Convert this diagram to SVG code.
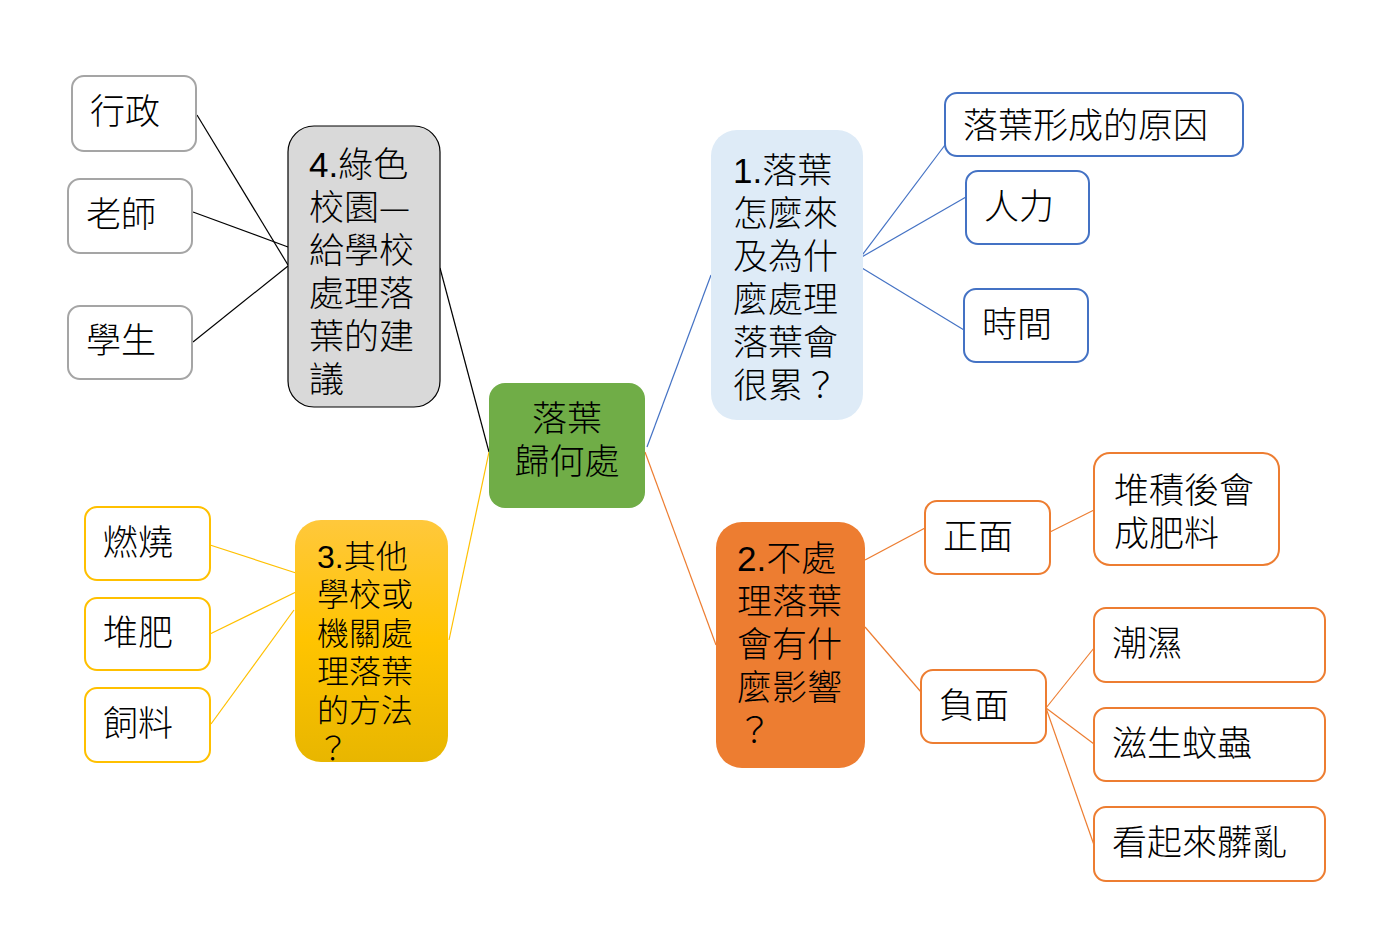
<svg xmlns="http://www.w3.org/2000/svg" width="1377" height="937" viewBox="0 0 1377 937">
<style>
text{font-family:"Noto Sans CJK TC","Noto Sans CJK SC",sans-serif;font-size:35px;fill:#000;font-weight:300}
.s{font-size:32px}
.d{font-family:"Liberation Sans","Noto Sans",sans-serif;font-weight:400}
.gray{fill:#fff;stroke:#A5A5A5;stroke-width:2}
.blue{fill:#fff;stroke:#4472C4;stroke-width:2}
.yel{fill:#fff;stroke:#FFC000;stroke-width:2}
.org{fill:#fff;stroke:#ED7D31;stroke-width:2}
#connectors line{stroke-width:1.2;fill:none}
</style>
<defs>
<linearGradient id="yg" x1="0" y1="0" x2="0" y2="1">
<stop offset="0" stop-color="#FFC83C"/>
<stop offset="0.5" stop-color="#FFC400"/>
<stop offset="1" stop-color="#E8B600"/>
</linearGradient>
</defs>
<rect width="1377" height="937" fill="#fff"/>
<g id="connectors">
<g stroke="#000">
<line x1="197" y1="115" x2="288" y2="265"/>
<line x1="193" y1="212" x2="288" y2="247"/>
<line x1="193" y1="342" x2="288" y2="266"/>
<line x1="440" y1="268" x2="489" y2="452"/>
</g>
<g stroke="#4472C4">
<line x1="647" y1="447" x2="711" y2="275"/>
<line x1="860" y1="258" x2="945" y2="145"/>
<line x1="860" y1="258" x2="966" y2="197"/>
<line x1="862" y1="268" x2="964" y2="330"/>
</g>
<g stroke="#FFC000">
<line x1="449" y1="640" x2="489" y2="452"/>
<line x1="210" y1="545" x2="296" y2="573"/>
<line x1="210" y1="634" x2="296" y2="592"/>
<line x1="211" y1="724" x2="294" y2="610"/>
</g>
<g stroke="#ED7D31">
<line x1="645" y1="452" x2="716" y2="645"/>
<line x1="865" y1="560" x2="925" y2="528"/>
<line x1="1050" y1="532" x2="1094" y2="510"/>
<line x1="865" y1="627" x2="921" y2="692"/>
<line x1="1046" y1="708" x2="1094" y2="648"/>
<line x1="1046" y1="708" x2="1094" y2="744"/>
<line x1="1046" y1="708" x2="1094" y2="845"/>
</g>
</g>
<g id="center">
<rect x="489" y="383" width="156" height="125" rx="16" fill="#70AD47"/>
<text x="567" y="431" text-anchor="middle">落葉</text>
<text x="567" y="474" text-anchor="middle">歸何處</text>
</g>
<g id="n4">
<rect x="288" y="126" width="152" height="281" rx="26" fill="#D9D9D9" stroke="#000" stroke-width="1.2"/>
<text x="309" y="177"><tspan class="d">4.</tspan>綠色</text>
<text x="309" y="220">校園—</text>
<text x="309" y="263">給學校</text>
<text x="309" y="306">處理落</text>
<text x="309" y="349">葉的建</text>
<text x="309" y="392">議</text>
</g>
<g id="n4a"><rect class="gray" x="72" y="76" width="124" height="75" rx="12"/><text x="90" y="124">行政</text></g>
<g id="n4b"><rect class="gray" x="68" y="179" width="124" height="74" rx="12"/><text x="86" y="227">老師</text></g>
<g id="n4c"><rect class="gray" x="68" y="306" width="124" height="73" rx="12"/><text x="86" y="353">學生</text></g>
<g id="n1">
<rect x="711" y="130" width="152" height="290" rx="26" fill="#DEEBF7"/>
<text x="733" y="183"><tspan class="d">1.</tspan>落葉</text>
<text x="733" y="226">怎麼來</text>
<text x="733" y="269">及為什</text>
<text x="733" y="312">麼處理</text>
<text x="733" y="355">落葉會</text>
<text x="733" y="398">很累？</text>
</g>
<g id="n1a"><rect class="blue" x="945" y="93" width="298" height="63" rx="12"/><text x="963" y="138">落葉形成的原因</text></g>
<g id="n1b"><rect class="blue" x="966" y="171" width="123" height="73" rx="12"/><text x="984" y="219">人力</text></g>
<g id="n1c"><rect class="blue" x="964" y="289" width="124" height="73" rx="12"/><text x="982" y="337">時間</text></g>
<g id="n3">
<rect x="295" y="520" width="153" height="242" rx="26" fill="url(#yg)"/>
<text class="s" x="317" y="568"><tspan class="d">3.</tspan>其他</text>
<text class="s" x="317" y="606">學校或</text>
<text class="s" x="317" y="645">機關處</text>
<text class="s" x="317" y="683">理落葉</text>
<text class="s" x="317" y="722">的方法</text>
<text class="s" x="317" y="760">？</text>
</g>
<g id="n3a"><rect class="yel" x="85" y="507" width="125" height="73" rx="12"/><text x="103" y="555">燃燒</text></g>
<g id="n3b"><rect class="yel" x="85" y="598" width="125" height="72" rx="12"/><text x="103" y="645">堆肥</text></g>
<g id="n3c"><rect class="yel" x="85" y="688" width="125" height="74" rx="12"/><text x="103" y="736">飼料</text></g>
<g id="n2">
<rect x="716" y="522" width="149" height="246" rx="26" fill="#ED7D31"/>
<text x="737" y="571"><tspan class="d">2.</tspan>不處</text>
<text x="737" y="614">理落葉</text>
<text x="737" y="657">會有什</text>
<text x="737" y="700">麼影響</text>
<text x="737" y="743">？</text>
</g>
<g id="n2a"><rect class="org" x="925" y="501" width="125" height="73" rx="12"/><text x="943" y="549">正面</text></g>
<g id="n2a1"><rect class="org" x="1094" y="453" width="185" height="112" rx="16"/><text x="1114" y="503">堆積後會</text><text x="1114" y="546">成肥料</text></g>
<g id="n2b"><rect class="org" x="921" y="670" width="125" height="73" rx="12"/><text x="939" y="718">負面</text></g>
<g id="n2b1"><rect class="org" x="1094" y="608" width="231" height="74" rx="12"/><text x="1112" y="656">潮濕</text></g>
<g id="n2b2"><rect class="org" x="1094" y="708" width="231" height="73" rx="12"/><text x="1112" y="756">滋生蚊蟲</text></g>
<g id="n2b3"><rect class="org" x="1094" y="807" width="231" height="74" rx="12"/><text x="1112" y="855">看起來髒亂</text></g>
</svg>
